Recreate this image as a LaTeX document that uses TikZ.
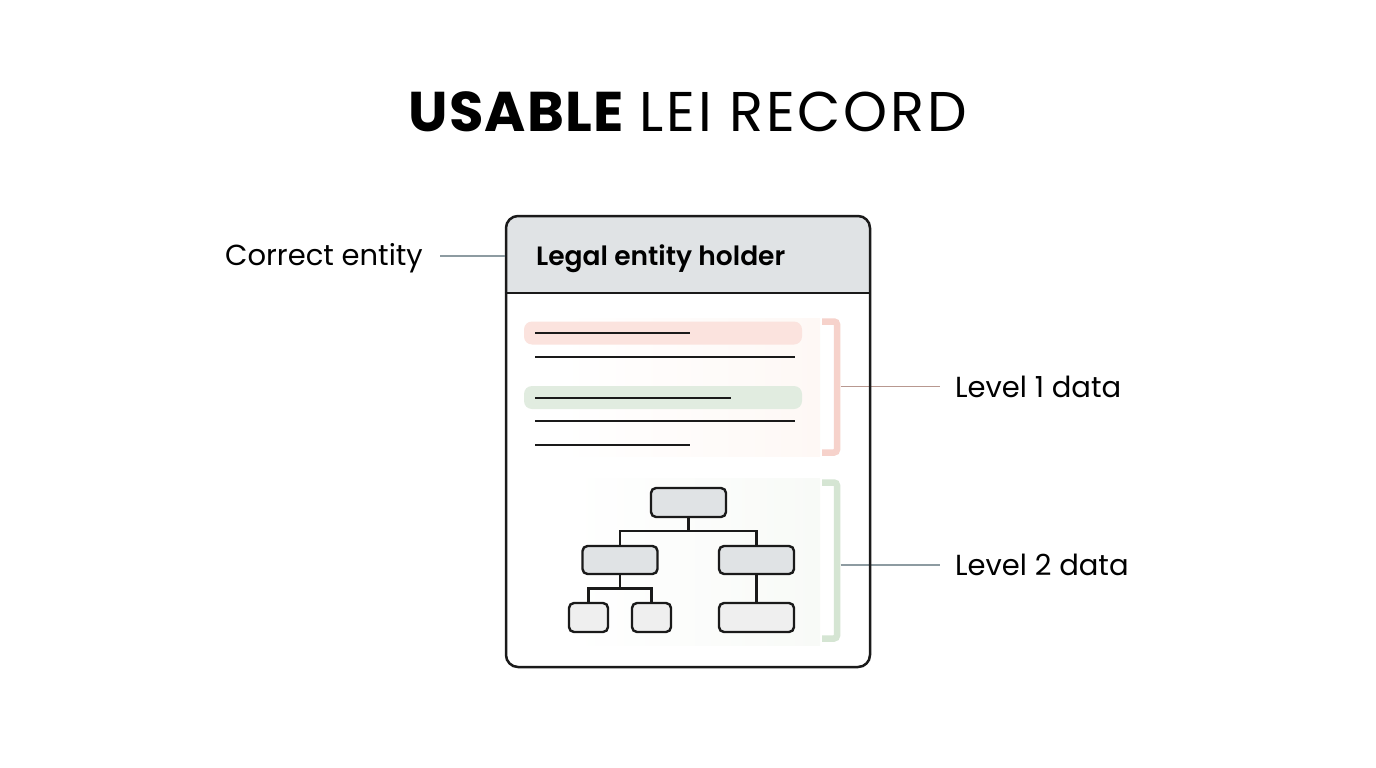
\documentclass[tikz,border=0pt]{standalone}
\usepackage{fontspec}
\setmainfont{Poppins}
\newfontfamily\semibold{Poppins SemiBold}
\usetikzlibrary{positioning}
\definecolor{ink}{HTML}{1A1A1A}
\definecolor{hdrgray}{HTML}{E0E3E5}
\definecolor{leafgray}{HTML}{EFEFEF}
\definecolor{bandred}{HTML}{FBE3DE}
\definecolor{bandgreen}{HTML}{E1ECE0}
\definecolor{brkred}{HTML}{F6D2CB}
\definecolor{brkgreen}{HTML}{D5E5D3}
\definecolor{leadred}{HTML}{B89890}
\definecolor{leadgray}{HTML}{8D9BA1}
\definecolor{fadered}{HTML}{FEF8F5}
\definecolor{fadegreen}{HTML}{F8FAF7}
\begin{document}
\begin{tikzpicture}[x=1pt,y=-1pt,
  lbl/.style={anchor=base west,inner sep=0pt,font=\fontsize{29}{34}\selectfont},
  tbox/.style={draw=ink,line width=2.4pt,rounded corners=5pt,fill=hdrgray,minimum width=75pt,minimum height=29pt,inner sep=0pt},
  leaf/.style={tbox,fill=leafgray},
  tline/.style={draw=ink,line width=2.4pt},
  txtline/.style={draw=ink,line width=2.7pt},
  brk/.style={line width=6.5pt,rounded corners=3pt},
  lead/.style={line width=1.3pt}
]
\useasboundingbox (0,0) rectangle (1376,768);
\fill[white] (0,0) rectangle (1376,768);

\node[anchor=base,inner sep=0pt] (title) at (688,131.5) {\fontsize{56}{62}\selectfont{\addfontfeature{LetterSpace=2}\textbf{USABLE}} {\addfontfeature{LetterSpace=5}LEI RECORD}};

\shade[left color=white,right color=fadered] (560,318) rectangle (820,456);
\shade[left color=white,right color=fadegreen] (570,478) rectangle (820,645);

\begin{scope}
\clip (506,216) rectangle (870,293);
\fill[hdrgray,rounded corners=12pt] (506,216) rectangle (870,340);
\end{scope}

\fill[bandred,rounded corners=8pt] (524,321.5) rectangle (802,344.5);
\fill[bandgreen,rounded corners=8pt] (524,386) rectangle (802,409);
\foreach \y/\x in {333/690,357/795,398/731,421/795,445/690}
  \draw[txtline] (535,\y) -- (\x,\y);

\draw[brk,brkred] (822,321.5) -- (837,321.5) -- (837,452.5) -- (822,452.5);
\draw[brk,brkgreen] (822,482.5) -- (837,482.5) -- (837,638.5) -- (822,638.5);

\coordinate (b1) at (840.5,386.5);
\coordinate (e1) at (940,386.5);
\coordinate (b2) at (840.5,565);
\coordinate (e2) at (940,565);
\coordinate (ce) at (440,256);
\draw[lead,leadred] (b1) -- (e1);
\draw[lead,leadgray] (b2) -- (e2);

\node[draw=ink,line width=2.5pt,rounded corners=12pt,minimum width=364pt,minimum height=451pt,inner sep=0pt] (card) at (688,441.5) {};
\draw[ink,line width=2.5pt] (card.west |- 0,293) -- (card.east |- 0,293);
\draw[lead,leadgray] (ce) -- (ce -| card.west);

\node[anchor=base west,inner sep=0pt,font=\fontsize{26.5}{30}\semibold] (hdr) at (536,265) {Legal entity holder};
\node[lbl,anchor=base east] (cor) at (423,265) {Correct entity};
\node[lbl] (l1) at (955,397) {Level 1 data};
\node[lbl] (l2) at (955,575.5) {Level 2 data};

\node[tbox] (top) at (688.5,502.5) {};
\node[tbox,minimum height=28pt] (ml) at (620,560) {};
\node[tbox,minimum height=28pt] (mr) at (756.5,560) {};
\node[leaf,minimum width=39pt] (bl1) at (588.5,617.5) {};
\node[leaf,minimum width=39pt] (bl2) at (651.5,617.5) {};
\node[leaf] (br) at (756.5,617.5) {};
\coordinate (j1) at (688.5,531);
\coordinate (j2) at (620,588.5);
\draw[tline] (top) -- (j1);
\draw[tline] (ml.north) |- (j1) -| (mr.north);
\draw[tline] (ml) -- (j2);
\draw[tline] (bl1.north) |- (j2) -| (bl2.north);
\draw[tline] (mr) -- (br);
\end{tikzpicture}
\end{document}
